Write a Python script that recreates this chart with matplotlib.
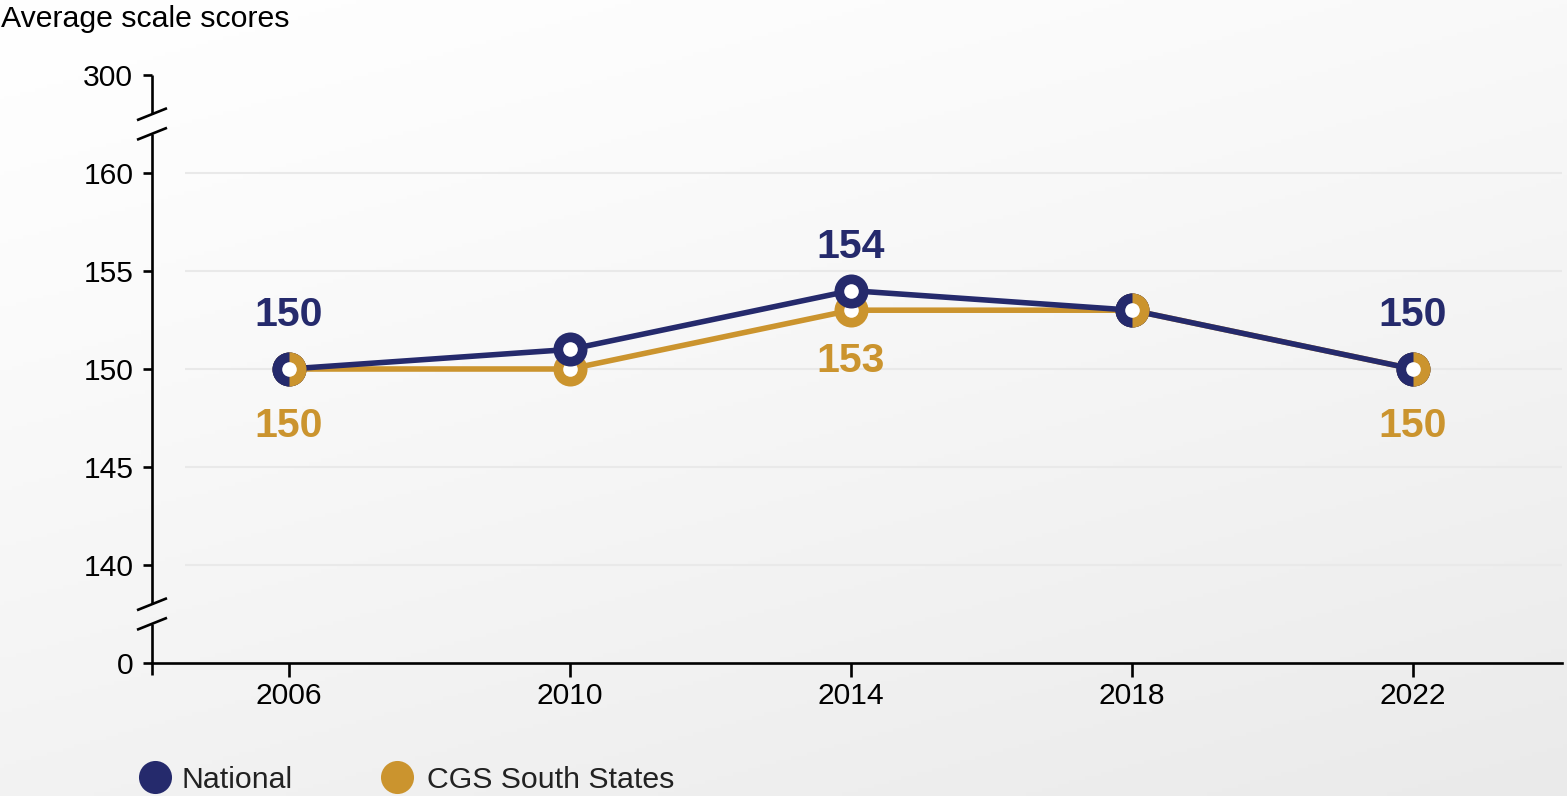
import numpy as np
import matplotlib
matplotlib.use("Agg")
import matplotlib.pyplot as plt
from matplotlib.lines import Line2D

# ---------------- data ----------------
years = [2006, 2010, 2014, 2018, 2022]
national = [150, 151, 154, 153, 150]
cgs_south = [150, 150, 153, 153, 150]
series_names = ["National", "CGS South States"]
y_tick_values = [0, 140, 145, 150, 155, 160, 300]
labeled_years = [2006, 2014, 2022]
axis_title = "Average scale scores"

# ---------------- style ----------------
NAVY = "#252a6c"
GOLD = "#cb942e"
FONT = "Liberation Sans"
plt.rcParams["font.family"] = [FONT, "DejaVu Sans"]

W, H, DPI = 1567, 796, 100
fig = plt.figure(figsize=(W / DPI, H / DPI), dpi=DPI)

# background gradient
bg = fig.add_axes([0, 0, 1, 1], zorder=-10)
gx, gy = np.meshgrid(np.linspace(0, 1, 400), np.linspace(0, 1, 200))
shade = 255 - 21 * np.clip(0.35 * gx + 0.65 * gy, 0, 1) ** 1.2
img = np.dstack([shade, shade, shade]).astype(np.uint8)
bg.imshow(img, aspect="auto", extent=[0, 1, 0, 1], origin="upper")
bg.set_axis_off()

# axes in pixel geometry
ax_l, ax_r, ax_t, ax_b = 152, 1562, 75, 663
ax = fig.add_axes([ax_l / W, (H - ax_b) / H, (ax_r - ax_l) / W, (ax_b - ax_t) / H])
ax.patch.set_alpha(0)

# broken-axis mapping: 140..160 linear, 0 and 300 sit one step beyond
def to_display(v):
    if v < 140:
        return 135.0
    if v > 160:
        return 165.0
    return float(v)

XMIN, XMAX = 2004.05, 2024.12
YMIN, YMAX = 135, 165
ax.set_xlim(XMIN, XMAX)
ax.set_ylim(YMIN, YMAX)

px_per_x = (ax_r - ax_l) / (XMAX - XMIN)
px_per_y = (ax_b - ax_t) / (YMAX - YMIN)

# grid lines for the linear section
grid_start = 33 / (ax_r - ax_l)
for v in y_tick_values:
    if 140 <= v <= 160:
        ax.plot([grid_start, 1], [v, v], transform=ax.get_yaxis_transform(),
                color="#e9e9e9", lw=1.5, zorder=1, solid_capstyle="butt")

# spines
for s in ["top", "right", "left"]:
    ax.spines[s].set_visible(False)
ax.spines["bottom"].set_linewidth(1.9)
ax.spines["bottom"].set_color("black")

spine_lw = 1.9
ext = 12 / px_per_y
segments = [(YMIN - ext, 137), (138, 162), (163, YMAX)]
for y0, y1 in segments:
    ax.add_line(Line2D([XMIN, XMIN], [y0, y1], color="black", lw=spine_lw,
                       clip_on=False, solid_capstyle="butt", zorder=10))
dx = 15 / px_per_x
dy = 6 / px_per_y
for yc in [137, 138, 162, 163]:
    ax.add_line(Line2D([XMIN - dx, XMIN + dx], [yc - dy, yc + dy], color="black",
                       lw=spine_lw, clip_on=False, solid_capstyle="butt", zorder=10))

# ticks
ax.set_xticks(years)
ax.set_xticklabels([str(y) for y in years])
ax.set_yticks([to_display(v) for v in y_tick_values])
ax.set_yticklabels([str(v) for v in y_tick_values])
ax.tick_params(axis="x", direction="out", length=10, width=1.9, pad=4,
               labelsize=21.6, colors="black")
ax.tick_params(axis="y", direction="out", length=6.5, width=1.9, pad=7,
               labelsize=21.6, colors="black")

# lines and markers
ms_outer = 24.5
ms_inner = 10.5
lw_line = 4.0
ax.plot(years, cgs_south, color=GOLD, lw=lw_line, zorder=3, solid_capstyle="round")
ax.plot(years, cgs_south, "o", ms=ms_outer, mfc=GOLD, mec="none", zorder=4)
ax.plot(years, cgs_south, "o", ms=ms_inner, mfc="white", mec="none", zorder=4.5)

ax.plot(years, national, color=NAVY, lw=lw_line, zorder=5, solid_capstyle="round")
ax.plot(years, national, "o", ms=ms_outer, mfc=NAVY, mec="none", zorder=6)
ax.plot(years, national, "o", ms=ms_inner, mfc="white", mec="none", zorder=6.5)

same_x = [x for x, a, b in zip(years, national, cgs_south) if a == b]
same_y = [a for a, b in zip(national, cgs_south) if a == b]
ax.plot(same_x, same_y, "o", ms=ms_outer, fillstyle="left", mfc=NAVY,
        markerfacecoloralt=GOLD, mec="none", zorder=7)
ax.plot(same_x, same_y, "o", ms=ms_inner, mfc="white", mec="none", zorder=7.5)

# data labels (baseline offsets in pixels)
nat_offsets = {2006: 43, 2014: 33, 2022: 43}
cgs_offsets = {2006: -68, 2014: -62, 2022: -68}
for x, a, b in zip(years, national, cgs_south):
    if x in labeled_years:
        ax.annotate(str(a), (x, a), xytext=(0, nat_offsets[x]), textcoords="offset pixels",
                    ha="center", va="baseline", fontsize=29.5, fontweight="bold",
                    color=NAVY, zorder=9)
        ax.annotate(str(b), (x, b), xytext=(0, cgs_offsets[x]), textcoords="offset pixels",
                    ha="center", va="baseline", fontsize=29.5, fontweight="bold",
                    color=GOLD, zorder=9)

# axis title
fig.text(1 / W, 1 - 27 / H, axis_title, ha="left", va="baseline",
         fontsize=21.8, color="black")

# legend
legend_items = [(155, 182, NAVY), (397, 427, GOLD)]
for (cx, tx, col), name in zip(legend_items, series_names):
    fig.add_artist(Line2D([cx / W], [1 - 777 / H], marker="o", ms=23.8, mfc=col,
                          mec="none", transform=fig.transFigure))
    fig.text(tx / W, 1 - 788 / H, name, ha="left", va="baseline",
             fontsize=21.8, color="#222222")

fig.savefig("out.png", dpi=DPI)
